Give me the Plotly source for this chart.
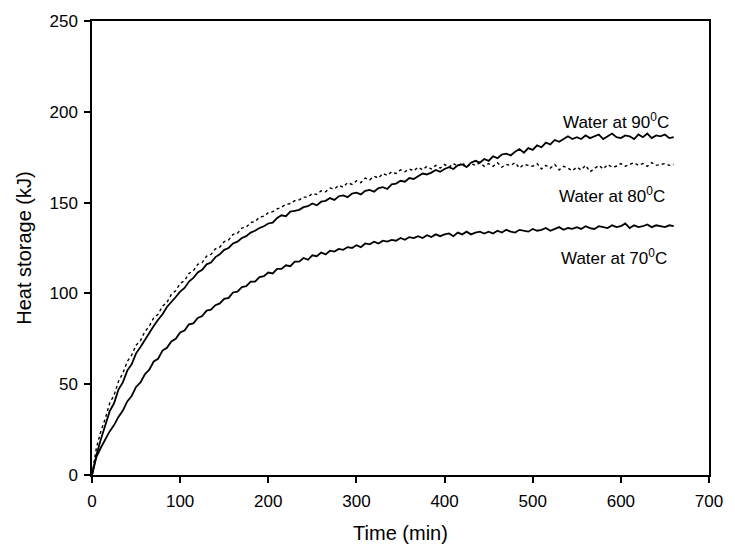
import plotly.graph_objects as go

# Heat storage (kJ), every 5 minutes from 0 to 660 min
heat_90 = [
    0, 11, 19.5, 27, 35, 39.5, 47, 51, 57.5, 61,
    67, 70.5, 74.5, 78.5, 82, 85.5, 88.5, 92.5, 95, 98,
    101, 103, 106.5, 108.5, 111.5, 113, 116, 117, 120, 121.5,
    124, 125, 127.5, 128.5, 130.5, 131.5, 133.5, 134.5, 136, 137,
    138.5, 139, 141.5, 143, 142.5, 145, 145.5, 146, 147.5, 148,
    149.5, 148.5, 150.5, 151, 152.5, 151.5, 153.5, 154, 153, 155,
    155.5, 154.5, 156.5, 157, 156, 158, 158.5, 157.5, 160, 160.5,
    162, 161.5, 163.5, 163, 164.5, 166, 165.5, 166.5, 168, 167,
    168.5, 169.5, 168.5, 170.5, 171, 169.5, 172, 173, 172, 174,
    173, 175.5, 174.5, 176.5, 177, 176, 178, 179.5, 177.5, 180,
    179, 181.5, 180.5, 183, 182, 184.5, 183.5, 185, 186.5, 185,
    186, 185, 187, 185.5, 186.5, 187.5, 185, 186.5, 188, 186,
    185.5, 187, 186.5, 185, 187.5, 186, 188, 185.5, 187, 186.5,
    187.5, 185.5, 186,
]
heat_80 = [
    0, 15, 24, 31, 39.5, 44, 51.5, 56, 62.5, 66,
    71.5, 74, 79, 82, 86.5, 88.5, 93, 95, 99.5, 101.5,
    105.5, 107, 111, 112.5, 116, 117, 120.5, 121.5, 124.5, 125.5,
    128.5, 129.5, 132.5, 133, 136, 136.5, 139, 139.5, 142, 142.5,
    144.5, 145, 146.5, 147.5, 149, 149.5, 151, 151.5, 153, 153,
    155, 154.5, 156.5, 156, 158, 157.5, 159.5, 158.5, 161, 160,
    162, 161, 163.5, 162.5, 164.5, 163.5, 166, 165, 167, 166,
    168, 167, 168.5, 167.5, 169.5, 168, 170, 168.5, 170.5, 169,
    171, 169.5, 171.5, 170, 172, 169.5, 171.5, 170.5, 172, 170,
    171.5, 170, 172, 169.5, 171, 170.5, 172, 169, 171, 170.5,
    170, 171.5, 168.5, 170.5, 169, 171, 168, 170, 169, 167.5,
    169.5, 168, 170.5, 167, 169, 170.5, 168.5, 171, 169.5, 170,
    171.5, 170, 171, 172, 170.5, 171.5, 170, 172, 170.5, 171,
    171.5, 170.5, 171,
]
heat_70 = [
    0, 10, 15, 19.5, 24, 27.5, 32, 35.5, 40.5, 43.5,
    48.5, 51, 55.5, 58, 62.5, 64, 68.5, 70, 73.5, 75,
    78.5, 79.5, 83, 83.5, 86.5, 87.5, 90.5, 91, 93.5, 94.5,
    97, 97.5, 100.5, 101, 103.5, 104, 106.5, 106.5, 109, 109.5,
    111.5, 111, 113.5, 113.5, 115.5, 115, 117.5, 117.5, 119.5, 118.5,
    121, 120.5, 122.5, 121.5, 123.5, 123, 124.5, 124, 125.5, 125,
    126.5, 125.5, 127.5, 127, 128.5, 127.5, 129, 128.5, 129.5, 129,
    130.5, 129.5, 131, 130.5, 131.5, 130.5, 132, 131, 132.5, 131.5,
    132.5, 133, 131.5, 133.5, 132.5, 134, 132.5, 133.5, 134, 133,
    134, 133, 134.5, 133.5, 135, 134, 133.5, 135, 134.5, 134,
    135.5, 134.5, 135, 136, 134.5, 135.5, 136.5, 135, 136, 135.5,
    136.5, 135.5, 137, 136, 135.5, 137, 136.5, 136, 137.5, 136.5,
    137, 138.5, 136, 137.5, 136.5, 137, 138, 136.5, 137.5, 137,
    136.5, 137.5, 137,
]
step_min = 5
time_90 = [i * step_min for i in range(len(heat_90))]
time_80 = [i * step_min for i in range(len(heat_80))]
time_70 = [i * step_min for i in range(len(heat_70))]

labels = ["Water at 90<sup>0</sup>C", "Water at 80<sup>0</sup>C", "Water at 70<sup>0</sup>C"]
label_x = [595, 590, 592]
label_y = [195, 154, 120]

fig = go.Figure()
fig.add_trace(go.Scatter(x=time_80, y=heat_80, mode="lines",
                         line=dict(color="black", width=1.4, dash="dot")))
fig.add_trace(go.Scatter(x=time_90, y=heat_90, mode="lines",
                         line=dict(color="black", width=1.8)))
fig.add_trace(go.Scatter(x=time_70, y=heat_70, mode="lines",
                         line=dict(color="black", width=1.8)))

for txt, lx, ly in zip(labels, label_x, label_y):
    fig.add_annotation(x=lx, y=ly, text=txt, showarrow=False,
                       font=dict(size=17, color="black"))

axis_common = dict(showline=True, linecolor="black", linewidth=1.5, mirror=True,
                   ticks="outside", ticklen=6, tickwidth=1.5, tickcolor="black",
                   showgrid=False, zeroline=False, tickfont=dict(size=17))

fig.update_layout(
    width=735, height=553,
    margin=dict(l=92, r=20, t=19, b=78),
    plot_bgcolor="white", paper_bgcolor="white",
    showlegend=False,
    font=dict(family="Liberation Sans, Arial, sans-serif", color="black"),
    xaxis=dict(range=[0, 700], tickvals=[0, 100, 200, 300, 400, 500, 600, 700],
               ticklabelstandoff=4,
               title=dict(text="Time (min)", font=dict(size=20), standoff=16), **axis_common),
    yaxis=dict(range=[0, 250], tickvals=[0, 50, 100, 150, 200, 250],
               ticklabelstandoff=3,
               title=dict(text="Heat storage (kJ)", font=dict(size=20), standoff=12), **axis_common),
)

fig.write_html("out.html")
